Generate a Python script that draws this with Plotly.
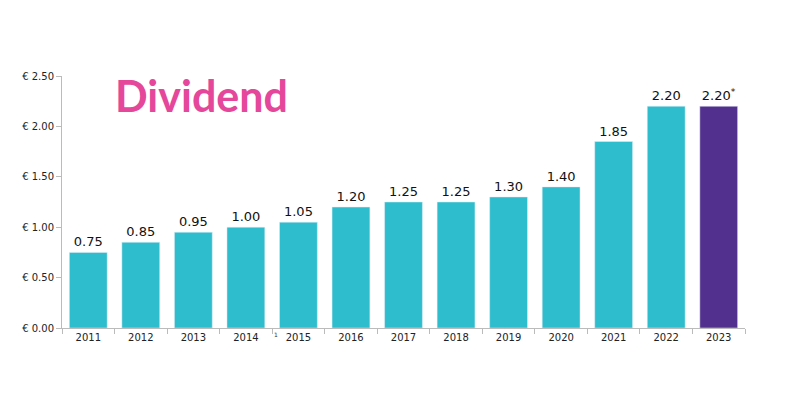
import plotly.graph_objects as go

years = ["2011","2012","2013","2014","2015","2016","2017","2018","2019","2020","2021","2022","2023"]
dividend = [0.75,0.85,0.95,1.00,1.05,1.20,1.25,1.25,1.30,1.40,1.85,2.20,2.20]
labels = ["0.75","0.85","0.95","1.00","1.05","1.20","1.25","1.25","1.30","1.40","1.85","2.20","2.20<sup>*</sup>"]
colors = ["#2DBDCC"]*12 + ["#52318E"]
yticks = [0, 0.5, 1.0, 1.5, 2.0, 2.5]
yticktext = ["€ 0.00","€ 0.50","€ 1.00","€ 1.50","€ 2.00","€ 2.50"]

fig = go.Figure(go.Bar(
    x=years, y=dividend, marker_color=colors, text=labels,
    textposition="outside", cliponaxis=False,
    textfont=dict(family="DejaVu Sans", size=13, color="#111"),
))
fig.update_layout(
    width=799, height=399, plot_bgcolor="white", paper_bgcolor="white",
    margin=dict(l=54, r=62, t=68, b=79, autoexpand=False), bargap=0.28, showlegend=False,
    font=dict(family="DejaVu Sans", color="#222"),
)
fig.update_yaxes(range=[0, 2.5], tickvals=yticks, ticktext=yticktext, showgrid=False,
                 showline=True, linecolor="#bbb", linewidth=1, ticks="outside", ticklen=5,
                 tickcolor="#bbb", tickfont=dict(size=10), zeroline=False)
fig.update_xaxes(showline=True, linecolor="#bbb", linewidth=1, ticks="outside", ticklen=5,
                 tickcolor="#bbb", tickson="boundaries", tickfont=dict(size=10))
fig.add_annotation(xref="paper", yref="paper", x=0.075, y=1.03, xanchor="left", yanchor="top",
                   text="<b>Dividend</b>", showarrow=False,
                   font=dict(family="Lato", size=43, color="#E5479B"))
fig.add_annotation(x=3.57, y=0, yref="y", text="1", showarrow=False, yshift=-6,
                   font=dict(size=6, color="#333"))
fig.write_html("out.html")
